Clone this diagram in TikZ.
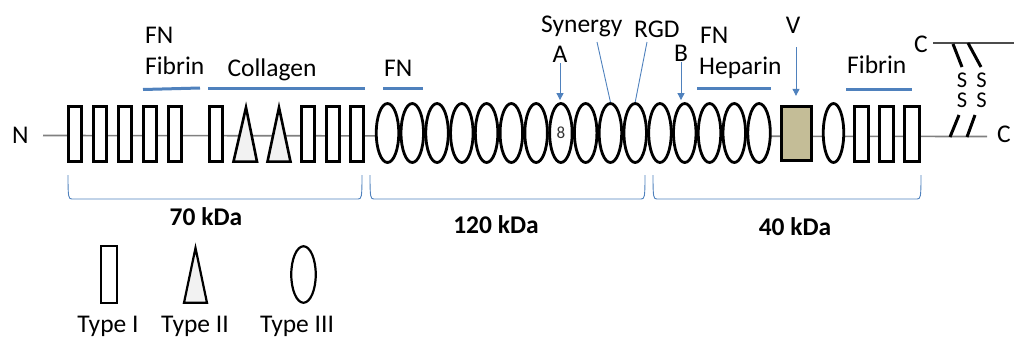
\documentclass[tikz,border=0pt]{standalone}
\usepackage{fontspec}
\setmainfont{Carlito}
\usetikzlibrary{arrows.meta,shapes.geometric}
\definecolor{fnblue}{HTML}{4F81BD}
\definecolor{tan}{HTML}{C4BD97}
\definecolor{trifill}{HTML}{F2F2F2}
\begin{document}
\begin{tikzpicture}[x=1pt,y=-1pt,
  lbl/.style={inner sep=0,font=\fontsize{25.5}{29}\selectfont},
  slbl/.style={inner sep=0,font=\fontsize{22.5}{24}\selectfont},
  bold lbl/.style={inner sep=0,font=\fontsize{25.5}{29}\selectfont\bfseries},
  typeI/.style={rectangle,draw=black,line width=2.8pt,fill=white,minimum width=13.5pt,minimum height=55pt,inner sep=0},
  typeIII/.style={ellipse,draw=black,line width=2.8pt,fill=white,minimum width=22.5pt,minimum height=59pt,inner sep=0},
  typeII/.style={draw=black,line width=2.6pt,fill=trifill,line join=miter},
  bar/.style={draw=fnblue,line width=3pt},
  brk/.style={draw=fnblue,line width=0.9pt},
  conn/.style={draw=fnblue,line width=0.9pt},
  arr/.style={draw=fnblue,line width=0.9pt,-{Triangle[width=7pt,length=7pt]}},
  backbone/.style={draw=gray,line width=1.6pt},
  ss/.style={draw=black,line width=3pt}
]
\useasboundingbox (0,0) rectangle (1014,338);

% backbone
\coordinate (bbL) at (43,135.5);
\coordinate (bbR) at (987,136.5);
\draw[backbone] (bbL) -- (bbR);
\coordinate (ctL) at (933,43);
\coordinate (ctR) at (1014,43);
\draw[draw=black!70,line width=1.4pt] (ctL) -- (ctR);

% type I modules (70 kDa)
\foreach \x [count=\i] in {75,100,125,150,175,216,308,333,357}
  \node[typeI] (a\i) at (\x,134) {};
% type II modules
\draw[typeII] (233.5,161.6) -- (246,107.5) -- (257,161.6) -- cycle;
\draw[typeII] (267.5,161.6) -- (279,107.5) -- (290.5,161.6) -- cycle;

% type III modules
\foreach \i in {1,...,16}
  \node[typeIII] (e\i) at ({387.5+24.77*(\i-1)},133) {};
\node[inner sep=0,font=\fontsize{17}{19}\selectfont,text=black!80] (n8) at (e8) {8};

% variable region and C-terminal modules
\node[rectangle,draw=black,line width=2.8pt,fill=tan,minimum width=30.5pt,minimum height=54.5pt,inner sep=0] (vbox) at (796.5,133.5) {};
\node[typeIII,minimum width=20.5pt] (e17) at (833.5,133) {};
\foreach \x [count=\i] in {861.5,886.5,912}
  \node[typeI,minimum width=14.5pt] (c\i) at (\x,134) {};

% disulfide bonds
\draw[ss] (953,44) -- (962,67);
\draw[ss] (968,43) -- (981,67);
\draw[ss] (959,115) -- (950,137);
\draw[ss] (975,115) -- (967,137);
\node[slbl,anchor=base] (s1) at (962,87) {S};
\node[slbl,anchor=base] (s2) at (981.5,87) {S};
\node[slbl,anchor=base] (s3) at (962,107) {S};
\node[slbl,anchor=base] (s4) at (981.5,107) {S};

% terminal labels
\node[lbl,anchor=base west] (N) at (12,143) {N};
\node[lbl,anchor=base west] (Ctop) at (914,52) {C};
\node[lbl,anchor=base west] (Cbot) at (997,142) {C};

% binding labels and bars
\node[lbl,anchor=base west] (fn1) at (145,43) {FN};
\node[lbl,anchor=base west] (fib1) at (145,74) {Fibrin};
\draw[bar] (143,89.5) -- (200,88);
\node[lbl,anchor=base] (col) at (272,76) {Collagen};
\draw[bar] (208,88.5) -- (365,88.5);
\node[lbl,anchor=base west] (fn2) at (384,76) {FN};
\draw[bar] (383,88.5) -- (423,88.5);
\node[lbl,anchor=base west] (syn) at (541,32) {Synergy};
\node[lbl,anchor=base west] (rgd) at (634,37) {RGD};
\node[lbl,anchor=base] (A) at (560,62) {A};
\node[lbl,anchor=base] (B) at (681,61) {B};
\node[lbl,anchor=base west] (fn3) at (700,43) {FN};
\node[lbl,anchor=base west] (hep) at (699,74) {Heparin};
\draw[bar] (697,88.5) -- (771,88.5);
\node[lbl,anchor=base] (V) at (793,33) {V};
\node[lbl,anchor=base west] (fib2) at (847,73) {Fibrin};
\draw[bar] (846,89.5) -- (912,89.5);

% pointers
\draw[arr,shorten <=1pt,shorten >=2pt] (A.south) -- (A.south |- e8.north);
\draw[arr,shorten <=1pt,shorten >=2pt] (B.south) -- (B.south |- e13.north);
\coordinate (vtop) at (796,47);
\draw[arr,shorten >=9pt] (vtop) -- (vtop |- vbox.north);
\coordinate (synP) at (597,42);
\draw[conn] (synP) -- (e10.north);
\coordinate (rgdP) at (647,42);
\draw[conn] (rgdP) -- (e11.north);

% fragment brackets
\draw[brk] (68,175) .. controls (68,198) and (68.5,199) .. (72,199) -- (358,199) .. controls (361.5,199) and (362,198) .. (362,175);
\draw[brk] (370,175) .. controls (370,198) and (370.5,199) .. (374,199) -- (641,199) .. controls (644.5,199) and (645,198) .. (645,175);
\draw[brk] (653,175) .. controls (653,198) and (653.5,199) .. (657,199) -- (917,199) .. controls (920.5,199) and (921,198) .. (921,175);
\node[bold lbl,anchor=base] (k70) at (206,225) {70 kDa};
\node[bold lbl,anchor=base] (k120) at (496,233) {120 kDa};
\node[bold lbl,anchor=base] (k40) at (795,235) {40 kDa};

% legend
\node[typeI,line width=2.4pt,minimum width=15.5pt,minimum height=56.5pt] (legI) at (109,274.5) {};
\draw[typeII,line width=2.2pt] (184,302.8) -- (195.5,248) -- (207,302.8) -- cycle;
\node[typeIII,line width=2.2pt,minimum width=24.5pt,minimum height=56.5pt] (legIII) at (303.5,274.5) {};
\node[lbl,anchor=base] (tI) at (108,332) {Type I};
\node[lbl,anchor=base] (tII) at (195,332) {Type II};
\node[lbl,anchor=base] (tIII) at (297,332) {Type III};
\end{tikzpicture}
\end{document}
